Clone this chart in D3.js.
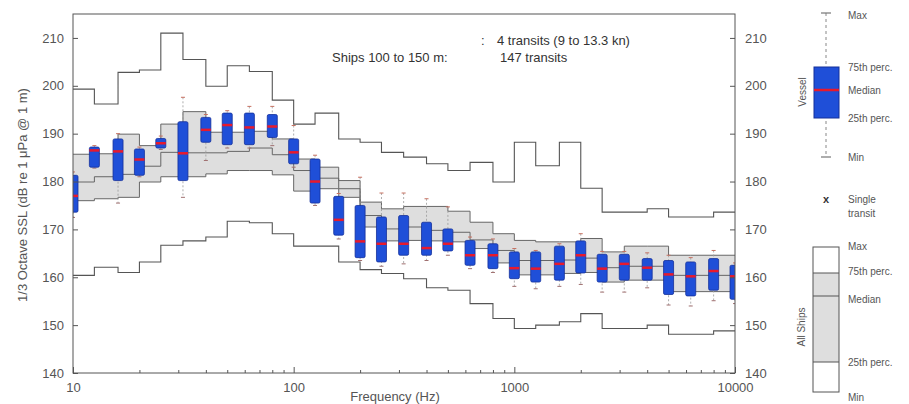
<!DOCTYPE html>
<html lang="en">
<head>
  <meta charset="UTF-8">
  <title>1/3 Octave SSL - vessel vs all ships</title>
  <style>
    body { margin: 0; background: #fff; }
    svg { font-family: "Liberation Sans", Arial, sans-serif; }
    .axis text { fill: #555; font-size: 13px; }
    .axis path, .axis line { stroke: #555; }
    .leg { fill: #555; font-size: 10px; }
  </style>
</head>
<body>
  <svg id="chart" width="909" height="404"></svg>
  <script src="https://d3js.org/d3.v7.min.js"></script>
  <script>
    // 1/3 octave band centre frequencies (Hz)
    const freqs = [10, 12.5, 16, 20, 25, 31.5, 40, 50, 63, 80, 100, 125, 160, 200, 250, 315,
      400, 500, 630, 800, 1000, 1250, 1600, 2000, 2500, 3150, 4000, 5000, 6300, 8000, 10000];

    // all ships 100 to 150 m (stairs)
    const allMax = [199.3, 196.2, 202.8, 203.3, 211.0, 205.5, 199.9, 204.2, 203.0, 197.0, 192.0, 194.3, 188.9, 188.2, 186.1, 185.1,
      183.7, 182.3, 184.0, 179.9, 188.2, 183.3, 188.2, 178.6, 173.6, 173.6, 174.3, 172.6, 172.6, 173.6, 173.6];
    const allP75 = [185.7, 185.8, 189.9, 187.5, 192.0, 194.6, 190.3, 190.3, 190.5, 188.9, 184.7, 183.0, 180.2, 175.7, 174.3, 174.8,
      174.8, 173.8, 171.5, 169.1, 167.7, 167.4, 167.4, 168.1, 165.3, 166.5, 166.5, 164.6, 164.6, 164.6, 164.6];
    const allMed = [179.9, 181.0, 181.5, 183.2, 186.1, 186.0, 186.0, 186.3, 187.0, 185.6, 182.3, 180.7, 178.5, 172.9, 170.1, 170.5,
      169.8, 169.4, 167.8, 165.6, 163.5, 163.5, 163.6, 164.0, 162.0, 162.3, 162.3, 160.4, 160.4, 160.4, 160.2];
    const allP25 = [176.0, 176.4, 176.7, 179.9, 181.0, 181.0, 181.6, 182.3, 182.3, 181.4, 178.0, 178.5, 176.7, 170.5, 167.6, 167.7,
      167.6, 167.4, 166.0, 163.0, 160.5, 160.5, 160.8, 161.0, 159.0, 159.4, 159.4, 157.0, 157.0, 157.0, 157.0];
    const allMin = [160.4, 162.1, 161.0, 163.2, 166.7, 167.6, 168.4, 171.7, 171.4, 169.1, 166.5, 166.5, 163.2, 161.6, 160.8, 159.7,
      157.8, 157.3, 154.5, 151.4, 149.3, 150.0, 150.7, 152.4, 149.3, 149.3, 150.0, 148.1, 148.1, 148.8, 148.8];

    // the vessel (4 transits)
    const vMax = [182.0, 187.5, 190.0, 187.2, 189.5, 197.6, 194.0, 194.8, 195.7, 195.7, 191.7, 185.5, 177.5, 180.9, 177.6, 177.6,
      176.4, 174.7, 168.4, 168.0, 166.0, 165.6, 167.0, 169.1, 165.4, 165.4, 165.1, 164.6, 164.1, 165.6, 163.0];
    const vP75 = [181.3, 187.2, 188.9, 186.8, 189.0, 192.5, 193.4, 194.3, 194.3, 194.0, 188.9, 184.7, 176.9, 175.0, 172.6, 172.9,
      171.5, 170.1, 167.7, 167.0, 165.3, 165.3, 166.5, 167.6, 164.8, 164.8, 163.9, 163.5, 163.2, 163.9, 162.5];
    const vMed = [177.0, 186.5, 186.3, 184.6, 188.0, 185.9, 190.8, 191.8, 191.3, 191.5, 186.1, 180.0, 172.0, 167.5, 167.0, 167.0,
      166.1, 167.0, 164.6, 164.6, 161.9, 161.8, 162.8, 164.6, 161.8, 162.8, 162.0, 160.6, 160.2, 161.3, 160.2];
    const vP25 = [173.6, 183.0, 180.2, 181.3, 187.0, 180.2, 188.2, 187.7, 187.7, 189.2, 183.7, 175.5, 168.8, 164.1, 163.2, 164.6,
      164.6, 165.5, 162.5, 161.8, 159.7, 159.0, 159.4, 160.9, 159.0, 159.4, 159.4, 156.4, 156.1, 157.3, 155.4];
    const vMin = [172.5, 182.8, 175.5, 181.0, 186.7, 176.7, 184.4, 187.0, 187.0, 187.5, 183.0, 175.0, 168.0, 163.5, 162.3, 162.8,
      163.5, 164.6, 161.8, 161.0, 158.1, 157.6, 158.1, 158.5, 156.9, 156.9, 157.8, 154.2, 154.0, 155.1, 154.5];

    const yTicks = [140, 150, 160, 170, 180, 190, 200, 210];
    const xTicks = [10, 100, 1000, 10000];

    const svg = d3.select("#chart");
    const pL = 73, pR = 735, pT = 14, pB = 373;

    const x = d3.scaleLog().domain([10, 10000]).range([pL, pR]);
    const y = d3.scaleLinear().domain([140, 215]).range([pB, pT]);

    svg.append("defs").append("clipPath").attr("id", "clip")
      .append("rect").attr("x", pL).attr("y", pT)
      .attr("width", pR - pL).attr("height", pB - pT);

    const plot = svg.append("g").attr("clip-path", "url(#clip)");

    // stairs: each band holds its value until the next band centre
    const rows = freqs.map((f, i) => ({ f, i }));
    rows.push({ f: 10000 * Math.pow(10, 0.1), i: freqs.length - 1 });

    const stair = arr => d3.line().curve(d3.curveStepAfter)
      .x(d => x(d.f)).y(d => y(arr[d.i]));

    plot.append("path")
      .datum(rows)
      .attr("d", d3.area().curve(d3.curveStepAfter)
        .x(d => x(d.f)).y0(d => y(allP25[d.i])).y1(d => y(allP75[d.i])))
      .attr("fill", "#dedede");

    [allP25, allMed, allP75].forEach(arr => {
      plot.append("path").datum(rows).attr("d", stair(arr))
        .attr("fill", "none").attr("stroke", "#666").attr("stroke-width", 1);
    });
    [allMin, allMax].forEach(arr => {
      plot.append("path").datum(rows).attr("d", stair(arr))
        .attr("fill", "none").attr("stroke", "#555").attr("stroke-width", 1.1);
    });

    // vessel boxes
    const bw = 10;
    const boxes = plot.selectAll(".box").data(freqs).enter().append("g").attr("class", "box");

    boxes.append("line")
      .attr("x1", d => x(d)).attr("x2", d => x(d))
      .attr("y1", (d, i) => y(vMax[i])).attr("y2", (d, i) => y(vMin[i]))
      .attr("stroke", "#999").attr("stroke-width", 0.8).attr("stroke-dasharray", "2,2");
    boxes.append("line")
      .attr("x1", d => x(d) - 2).attr("x2", d => x(d) + 2)
      .attr("y1", (d, i) => y(vMax[i])).attr("y2", (d, i) => y(vMax[i]))
      .attr("stroke", "#c77060").attr("stroke-width", 1);
    boxes.append("line")
      .attr("x1", d => x(d) - 2).attr("x2", d => x(d) + 2)
      .attr("y1", (d, i) => y(vMin[i])).attr("y2", (d, i) => y(vMin[i]))
      .attr("stroke", "#a07070").attr("stroke-width", 1);
    boxes.append("rect")
      .attr("x", d => x(d) - bw / 2).attr("width", bw)
      .attr("y", (d, i) => y(vP75[i]))
      .attr("height", (d, i) => y(vP25[i]) - y(vP75[i]))
      .attr("rx", 1.5)
      .attr("fill", "#1f4fd8").attr("stroke", "#14309a").attr("stroke-width", 0.8);
    boxes.append("line")
      .attr("x1", d => x(d) - bw / 2).attr("x2", d => x(d) + bw / 2)
      .attr("y1", (d, i) => y(vMed[i])).attr("y2", (d, i) => y(vMed[i]))
      .attr("stroke", "#e8192c").attr("stroke-width", 2.5);

    // axes
    svg.append("g").attr("class", "axis")
      .attr("transform", `translate(${pL},0)`)
      .call(d3.axisLeft(y).tickValues(yTicks).tickSize(-5).tickPadding(9));
    svg.append("g").attr("class", "axis")
      .attr("transform", `translate(${pR},0)`)
      .call(d3.axisRight(y).tickValues(yTicks).tickSize(-5).tickPadding(10));
    const minor = [];
    [10, 100, 1000].forEach(d => { for (let k = 2; k <= 9; k++) minor.push(d * k); });
    svg.append("g").attr("class", "axis")
      .attr("transform", `translate(0,${pB})`)
      .call(d3.axisBottom(x).tickValues(minor).tickSize(-3).tickFormat(""));
    svg.append("g").attr("class", "axis")
      .attr("transform", `translate(0,${pB})`)
      .call(d3.axisBottom(x).tickValues(xTicks).tickSize(-6).tickPadding(10).tickFormat(d3.format("d")));
    svg.selectAll(".axis .domain").remove();

    svg.append("rect").attr("x", pL).attr("y", pT)
      .attr("width", pR - pL).attr("height", pB - pT)
      .attr("fill", "none").attr("stroke", "#555").attr("stroke-width", 1);

    svg.append("text").attr("x", 395).attr("y", 401).attr("text-anchor", "middle")
      .attr("fill", "#555").attr("font-size", 13).text("Frequency (Hz)");
    svg.append("text").attr("transform", "translate(27,195) rotate(-90)")
      .attr("text-anchor", "middle").attr("fill", "#555").attr("font-size", 13)
      .text("1/3 Octave SSL (dB re 1 \u03bcPa @ 1 m)");

    // annotation (vessel name blanked in the source)
    svg.append("rect").attr("x", 326).attr("y", 16).attr("width", 156).attr("height", 32).attr("fill", "#fff");
    svg.append("text").attr("x", 481).attr("y", 45).attr("fill", "#333").attr("font-size", 13).text(":");
    svg.append("text").attr("x", 497).attr("y", 45).attr("fill", "#333").attr("font-size", 13)
      .text("4 transits (9 to 13.3 kn)");
    svg.append("text").attr("x", 332).attr("y", 62).attr("fill", "#333").attr("font-size", 13)
      .text("Ships 100 to 150 m:");
    svg.append("text").attr("x", 500).attr("y", 62).attr("fill", "#333").attr("font-size", 13)
      .text("147 transits");

    // legend: vessel box
    const lx = 826;
    const lg = svg.append("g");
    lg.append("line").attr("x1", lx).attr("x2", lx).attr("y1", 13).attr("y2", 157)
      .attr("stroke", "#888").attr("stroke-dasharray", "3,3");
    [13, 157].forEach(v => lg.append("line").attr("x1", lx - 5).attr("x2", lx + 5)
      .attr("y1", v).attr("y2", v).attr("stroke", "#777").attr("stroke-width", 1.2));
    lg.append("rect").attr("x", 814).attr("y", 67).attr("width", 25).attr("height", 51)
      .attr("fill", "#1f4fd8").attr("stroke", "#14309a");
    lg.append("line").attr("x1", 814).attr("x2", 839).attr("y1", 90).attr("y2", 90)
      .attr("stroke", "#e8192c").attr("stroke-width", 2.5);
    lg.append("text").attr("transform", "translate(806,92) rotate(-90)").attr("text-anchor", "middle")
      .attr("class", "leg").attr("font-size", 11).text("Vessel");
    [["Max", 19], ["75th perc.", 71], ["Median", 94], ["25th perc.", 122], ["Min", 161]].forEach(([t, v]) =>
      lg.append("text").attr("class", "leg").attr("x", 848).attr("y", v).text(t));
    lg.append("text").attr("x", lx).attr("y", 203).attr("text-anchor", "middle")
      .attr("fill", "#333").attr("font-size", 11).attr("font-weight", "bold").text("x");
    lg.append("text").attr("class", "leg").attr("x", 848).attr("y", 203).text("Single");
    lg.append("text").attr("class", "leg").attr("x", 848).attr("y", 217).text("transit");

    // legend: all ships stairs
    lg.append("rect").attr("x", 813).attr("y", 273).attr("width", 26).attr("height", 89).attr("fill", "#dedede");
    lg.append("rect").attr("x", 813).attr("y", 247).attr("width", 26).attr("height", 145)
      .attr("fill", "none").attr("stroke", "#555");
    [273, 296, 362].forEach(v => lg.append("line").attr("x1", 813).attr("x2", 839)
      .attr("y1", v).attr("y2", v).attr("stroke", "#555"));
    lg.append("text").attr("transform", "translate(805,327) rotate(-90)").attr("text-anchor", "middle")
      .attr("class", "leg").attr("font-size", 11).text("All Ships");
    [["Max", 250], ["75th perc.", 275], ["Median", 303], ["25th perc.", 366], ["Min", 401]].forEach(([t, v]) =>
      lg.append("text").attr("class", "leg").attr("x", 848).attr("y", v).text(t));
  </script>
</body>
</html>
